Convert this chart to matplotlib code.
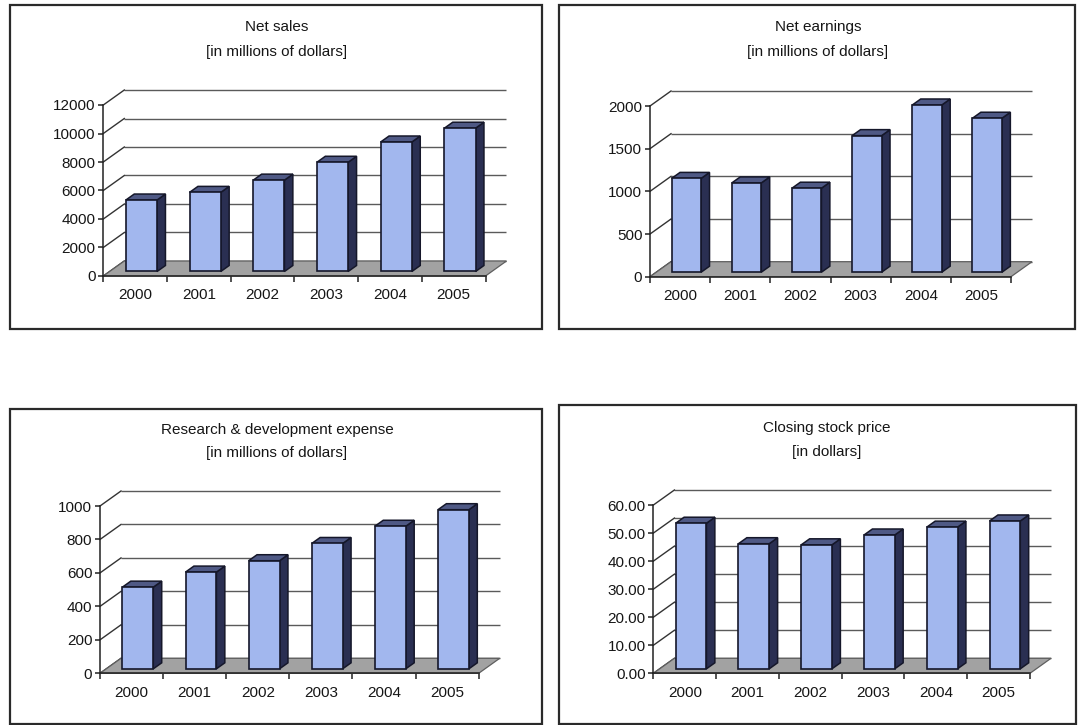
import matplotlib
matplotlib.use("Agg")
import matplotlib.pyplot as plt
from matplotlib.patches import Polygon, Rectangle
from matplotlib.ticker import FixedLocator, NullFormatter, FormatStrFormatter
import numpy as np

plt.rcParams["font.family"] = ["Liberation Sans", "DejaVu Sans"]

# ---- data -------------------------------------------------------------
years = ["2000", "2001", "2002", "2003", "2004", "2005"]
net_sales = [5015, 5552, 6411, 7665, 9087, 10055]          # millions of dollars
net_earnings = [1099, 1046, 984, 1600, 1959, 1804]         # millions of dollars
rd_expense = [488, 578, 646, 749, 852, 951]                # millions of dollars
stock_price = [51.9, 44.6, 44.2, 47.7, 50.5, 52.7]         # dollars

# ---- figure / style ----------------------------------------------------
W, H = 1079, 725
fig = plt.figure(figsize=(W / 100, H / 100), dpi=100)
fig.patch.set_facecolor("white")

DX, DY = 21, 15            # depth of floor and walls, in pixels
BAR_W = 0.49               # bar width in category units
BAR_Z0, BAR_Z1 = 0.3, 0.7  # bar depth span as a fraction of floor depth

FRONT = "#a2b7ee"
SIDE = "#2a2f52"
TOP = "#4f5985"
EDGE = "#15172a"
FLOOR = "#a2a2a2"
GRID = "#5a5a5a"
TEXT = "#161616"


def draw_panel(frame, area, title_lines, title_xy, values, ymax, step, fmt):
    # outer border of the chart
    x0, y0, x1, y1 = frame
    fig.patches.append(Rectangle((x0 / W, 1 - y1 / H), (x1 - x0) / W, (y1 - y0) / H,
                                 transform=fig.transFigure, fill=False,
                                 ec="#2a2a2a", lw=1.6))

    # title, two lines
    tx, ty1, ty2 = title_xy
    fig.text(tx / W, 1 - ty1 / H, title_lines[0], ha="center", va="center",
             fontsize=11, color=TEXT)
    fig.text(tx / W, 1 - ty2 / H, title_lines[1], ha="center", va="center",
             fontsize=11, color=TEXT)

    # front plane of the plot
    L, R, T, B = area
    n = len(values)
    ax = fig.add_axes([L / W, 1 - B / H, (R - L) / W, (B - T) / H])
    ax.set_xlim(0, n)
    ax.set_ylim(0, ymax)
    ax.patch.set_visible(False)

    ddx = DX * n / (R - L)
    ddy = DY * ymax / (B - T)

    levels = np.arange(0, ymax + step / 2, step)
    # back-wall gridlines and side-wall diagonals
    for v in levels:
        ax.plot([ddx, n + ddx], [v + ddy, v + ddy], color=GRID, lw=1.0,
                clip_on=False, zorder=1, solid_capstyle="butt")
        ax.plot([0, ddx], [v, v + ddy], color="#333333", lw=1.0,
                clip_on=False, zorder=1)

    # floor
    ax.add_patch(Polygon([(0, 0), (n, 0), (n + ddx, ddy), (ddx, ddy)],
                         closed=True, fc=FLOOR, ec="#5f5f5f", lw=0.9,
                         clip_on=False, zorder=2))

    # 3-D columns
    bx = (BAR_Z1 - BAR_Z0) * ddx
    by = (BAR_Z1 - BAR_Z0) * ddy
    for i, v in enumerate(values):
        xl = i + 0.5 - BAR_W / 2 + BAR_Z0 * ddx
        xr = xl + BAR_W
        yb = BAR_Z0 * ddy
        yt = v + yb
        ax.add_patch(Polygon([(xr, yb), (xr + bx, yb + by), (xr + bx, yt + by), (xr, yt)],
                             closed=True, fc=SIDE, ec=EDGE, lw=1.1,
                             clip_on=False, zorder=3))
        ax.add_patch(Polygon([(xl, yt), (xr, yt), (xr + bx, yt + by), (xl + bx, yt + by)],
                             closed=True, fc=TOP, ec=EDGE, lw=1.1,
                             clip_on=False, zorder=3))
        ax.add_patch(Rectangle((xl, yb), BAR_W, v, fc=FRONT, ec=EDGE, lw=1.2,
                               clip_on=False, zorder=4))

    # axes lines and ticks
    for s in ("top", "right"):
        ax.spines[s].set_visible(False)
    for s in ("left", "bottom"):
        ax.spines[s].set_color("#222222")
        ax.spines[s].set_linewidth(1.1)
        ax.spines[s].set_zorder(5)

    ax.yaxis.set_major_locator(FixedLocator(levels))
    ax.yaxis.set_major_formatter(FormatStrFormatter(fmt))
    ax.tick_params(axis="y", direction="out", length=3.5, width=1.1,
                   color="#222222", pad=2, labelsize=11, labelcolor=TEXT)

    ax.xaxis.set_major_locator(FixedLocator(np.arange(0, n + 1)))
    ax.xaxis.set_major_formatter(NullFormatter())
    ax.xaxis.set_minor_locator(FixedLocator(np.arange(n) + 0.5))
    ax.set_xticklabels(years, minor=True)
    ax.tick_params(axis="x", which="major", direction="out", length=4, width=1.1,
                   color="#222222")
    ax.tick_params(axis="x", which="minor", length=0, pad=9,
                   labelsize=11, labelcolor=TEXT)
    return ax


draw_panel((10, 5, 542, 329), (103.3, 485.5, 105, 276),
           ["Net sales", "[in millions of dollars]"], (277, 27, 52),
           net_sales, 12000, 2000, "%d")
draw_panel((559, 5, 1075, 329), (650, 1011, 106, 276.7),
           ["Net earnings", "[in millions of dollars]"], (818, 27, 52),
           net_earnings, 2000, 500, "%d")
draw_panel((10, 409, 542, 724), (100, 478.7, 506, 673.3),
           ["Research & development expense", "[in millions of dollars]"], (277, 430, 453),
           rd_expense, 1000, 200, "%d")
draw_panel((559, 405, 1076, 724), (653.4, 1030, 505, 673.3),
           ["Closing stock price", "[in dollars]"], (827, 428, 452),
           stock_price, 60, 10, "%.2f")

fig.savefig("out.png", dpi=100, facecolor="white")
